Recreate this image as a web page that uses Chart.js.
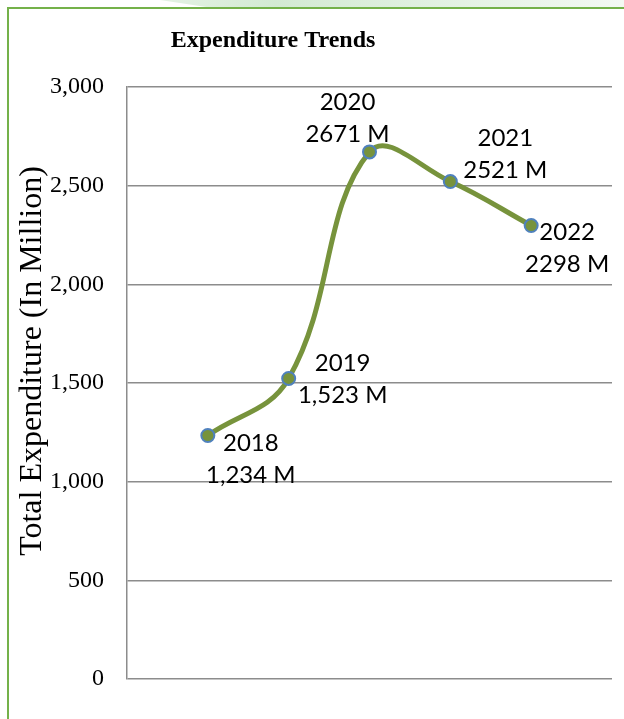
<!DOCTYPE html>
<html>
<head>
<meta charset="utf-8">
<script src="https://cdn.jsdelivr.net/npm/chart.js@4"></script>
<style>
  html, body { margin: 0; padding: 0; background: #fff; overflow: hidden; }
  #strip {
    position: absolute; left: 160px; top: 0; width: 464px; height: 7px;
    background: linear-gradient(to right, #e4f2e4, #d3ead3 25%, #e6f3e6 70%, #f3f9f3);
    clip-path: polygon(0 0, 100% 0, 100% 100%, 10% 100%);
  }
  #frame {
    position: absolute; left: 7px; top: 7px; width: 680px; height: 780px;
    border: 2px solid #74b14a;
  }
  #chart { position: absolute; left: 0; top: 0; }
</style>
</head>
<body>
<div id="strip"></div>
<div id="frame"></div>
<canvas id="chart" width="624" height="719"></canvas>
<script>
// data
const years = ['2018', '2019', '2020', '2021', '2022'];
const expenditure = [1234, 1523, 2671, 2521, 2298];
const valueText = ['1,234 M', '1,523 M', '2671 M', '2521 M', '2298 M'];
const yTicks = [0, 500, 1000, 1500, 2000, 2500, 3000];
const chartTitle = 'Expenditure Trends';
const yTitle = 'Total Expenditure (In Million)';

// label placement relative to each point (dx, baseline dy)
const labelOffsets = [[43, 16], [54, -7], [-22, -42], [55, -36], [36, 14]];

const green = '#77933c';

// titles and data labels drawn on top of the chart
const textPlugin = {
  id: 'chartText',
  afterDatasetsDraw(chart) {
    const ctx = chart.ctx;
    const meta = chart.getDatasetMeta(0);
    ctx.save();
    ctx.fillStyle = '#000';
    ctx.textAlign = 'center';
    ctx.textBaseline = 'alphabetic';

    ctx.font = '24px Lato';
    meta.data.forEach((pt, i) => {
      const [dx, dy] = labelOffsets[i];
      ctx.fillText(years[i], pt.x + dx, pt.y + dy);
      ctx.fillText(valueText[i], pt.x + dx, pt.y + dy + 32);
    });

    ctx.font = 'bold 24px "Liberation Serif"';
    ctx.fillText(chartTitle, 273, 47);

    ctx.translate(41, 361);
    ctx.rotate(-Math.PI / 2);
    ctx.font = '32px "Liberation Serif"';
    ctx.fillText(yTitle, 0, 0);
    ctx.restore();
  }
};

const ctx = document.getElementById('chart').getContext('2d');
new Chart(ctx, {
  type: 'line',
  data: {
    datasets: [{
      data: expenditure.map((v, i) => ({ x: i + 1, y: v })),
      borderColor: green,
      borderWidth: 5,
      tension: 0.4,
      pointRadius: 6.5,
      pointBackgroundColor: green,
      pointBorderColor: '#4f81bd',
      pointBorderWidth: 2
    }]
  },
  options: {
    responsive: false,
    animation: false,
    layout: { padding: { left: 0, top: 87, right: 12, bottom: 40 } },
    plugins: {
      legend: { display: false },
      tooltip: { enabled: false }
    },
    scales: {
      x: {
        type: 'linear',
        min: 0,
        max: years.length + 1,
        display: false
      },
      y: {
        min: yTicks[0],
        max: yTicks[yTicks.length - 1],
        afterFit: (scale) => { scale.width = 127; },
        afterBuildTicks: (scale) => { scale.ticks = yTicks.map(v => ({ value: v })); },
        grid: { color: '#8c8c8c', lineWidth: 1.5, drawTicks: false },
        border: { color: '#8c8c8c', width: 1.5 },
        ticks: {
          padding: 23,
          color: '#000',
          font: { family: 'Liberation Serif', size: 24 },
          callback: (v) => v.toLocaleString('en-US')
        }
      }
    }
  },
  plugins: [textPlugin]
});
</script>
</body>
</html>
